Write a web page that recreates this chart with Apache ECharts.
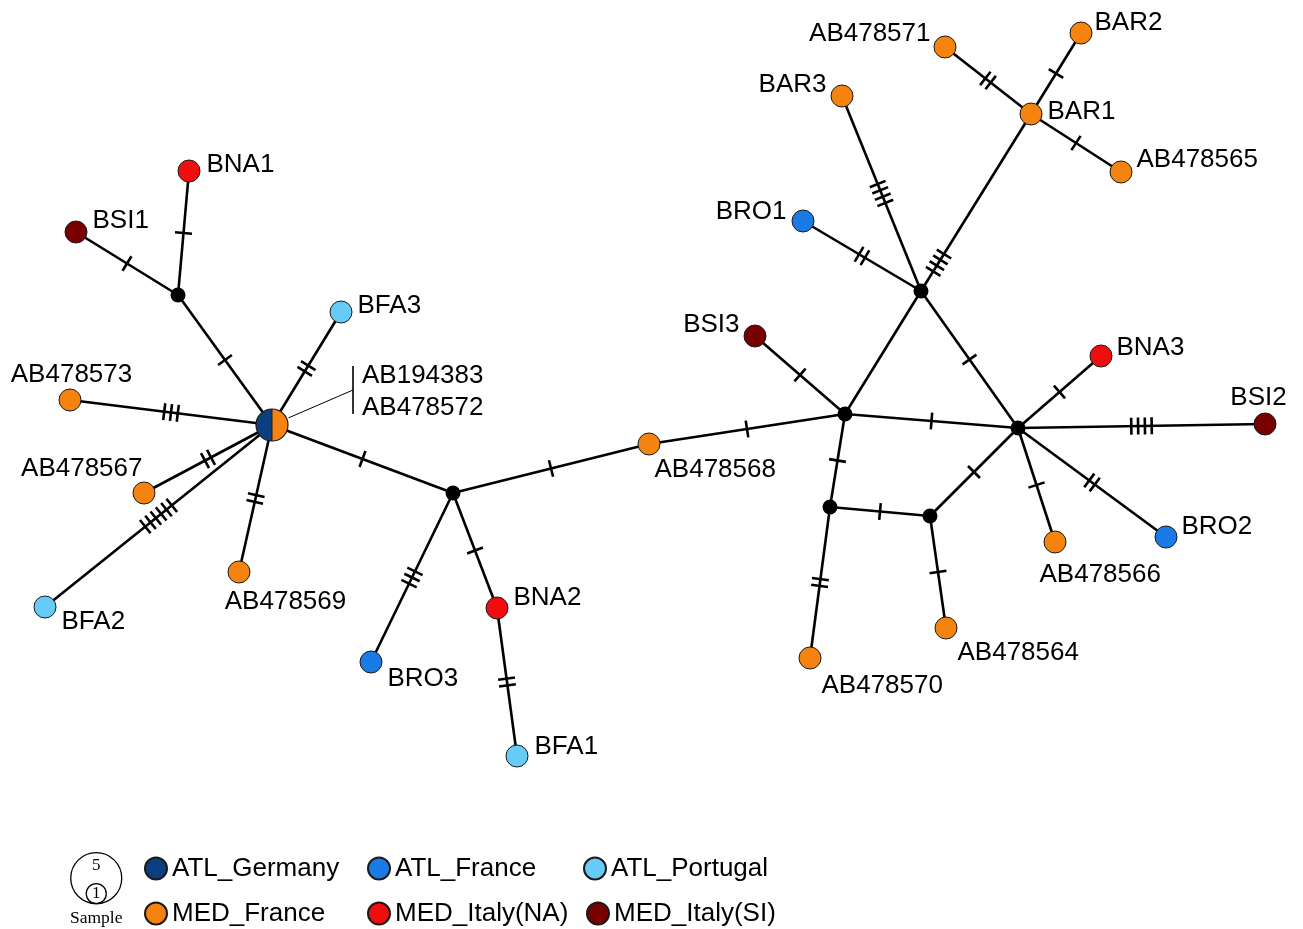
<!DOCTYPE html>
<html>
<head>
<meta charset="utf-8">
<script src="https://cdn.jsdelivr.net/npm/echarts@6/dist/echarts.min.js"></script>
<style>
  html, body { margin: 0; padding: 0; background: #ffffff; }
  #chart { width: 1303px; height: 929px; }
</style>
</head>
<body>
<div id="chart"></div>
<script>
// Median-joining haplotype network: sampled haplotypes, inferred median vectors,
// and the number of mutational steps along each link (hatch marks).

const groupNames  = ['ATL_Germany', 'ATL_France', 'ATL_Portugal', 'MED_France', 'MED_Italy(NA)', 'MED_Italy(SI)'];
const groupColors = ['#0b3f80', '#1a7be6', '#66cbf6', '#f5830f', '#f10d0d', '#780000'];

// Sampled haplotypes and their population of origin
const haplotypeNames  = ['BNA1', 'BSI1', 'BFA3', 'AB478573', 'AB478567', 'BFA2', 'AB478569', 'BRO3',
                         'BNA2', 'BFA1', 'AB478568', 'BSI3', 'BRO1', 'BAR3', 'AB478571', 'BAR1',
                         'BAR2', 'AB478565', 'BNA3', 'BSI2', 'BRO2', 'AB478566', 'AB478564', 'AB478570'];
const haplotypeGroups = ['MED_Italy(NA)', 'MED_Italy(SI)', 'ATL_Portugal', 'MED_France', 'MED_France', 'ATL_Portugal', 'MED_France', 'ATL_France',
                         'MED_Italy(NA)', 'ATL_Portugal', 'MED_France', 'MED_Italy(SI)', 'ATL_France', 'MED_France', 'MED_France', 'MED_France',
                         'MED_France', 'MED_France', 'MED_Italy(NA)', 'MED_Italy(SI)', 'ATL_France', 'MED_France', 'MED_France', 'MED_France'];
// Network layout coordinates
const haplotypeX = [189, 76, 341, 70, 144, 45, 239, 371, 497, 517, 649, 755, 803, 842, 945, 1031, 1081, 1121, 1101, 1265, 1166, 1055, 946, 810];
const haplotypeY = [171, 232, 312, 400, 493, 607, 572, 662, 608, 756, 444, 336, 221, 96, 47, 114, 33, 172, 356, 424, 537, 542, 628, 658];

// Shared haplotype (two sequences from two populations)
const sharedNames  = ['AB194383', 'AB478572'];
const sharedGroups = ['ATL_Germany', 'MED_France'];
const sharedX = 272;
const sharedY = 425;

// Inferred median vectors
const medianNames = ['mv1', 'mv2', 'mv3', 'mv4', 'mv5', 'mv6', 'mv7'];
const medianX = [178, 453, 845, 921, 1018, 830, 930];
const medianY = [295, 493, 414, 291, 428, 507, 516];

// Links and number of mutational steps
const linkFrom  = ['hub', 'mv1', 'mv1', 'hub', 'hub', 'hub', 'hub', 'hub', 'hub', 'mv2', 'mv2', 'BNA2', 'mv2', 'AB478568',
                   'mv3', 'mv3', 'mv4', 'mv4', 'mv4', 'BAR1', 'BAR1', 'BAR1', 'mv4', 'mv3', 'mv3', 'mv6', 'mv7',
                   'mv6', 'mv7', 'mv5', 'mv5', 'mv5', 'mv5'];
const linkTo    = ['mv1', 'BNA1', 'BSI1', 'BFA3', 'AB478573', 'AB478567', 'BFA2', 'AB478569', 'mv2', 'BRO3', 'BNA2', 'BFA1', 'AB478568', 'mv3',
                   'BSI3', 'mv4', 'BRO1', 'BAR3', 'BAR1', 'AB478571', 'BAR2', 'AB478565', 'mv5', 'mv5', 'mv6', 'mv7', 'mv5',
                   'AB478570', 'AB478564', 'BNA3', 'BSI2', 'AB478566', 'BRO2'];
const linkSteps = [1, 1, 1, 2, 3, 2, 6, 2, 1, 3, 1, 2, 1, 1,
                   1, 0, 2, 4, 4, 2, 1, 1, 1, 1, 1, 1, 1,
                   2, 1, 1, 4, 1, 2];

// ---- drawing styles ----
const FONT = "'Liberation Sans', Arial, Helvetica, sans-serif";
const SERIF = "'Liberation Serif', 'Times New Roman', serif";
const LABEL_SIZE = 26;
const NODE_SIZE = 22;
const MEDIAN_SIZE = 15;
const HUB_RADIUS = 16;
const EDGE_WIDTH = 2.6;

// where the hatch group sits along a link (fraction from the first node); default 0.5
const hatchAt = { 'mv4>BAR1': 0.16 };

// label placement relative to each node: [dx, dy, align]
const labelPlace = {
  'BNA1': [18, -6, 'left'], 'BSI1': [17, -11, 'left'], 'BFA3': [17, -6, 'left'],
  'AB478573': [2, -25, 'center'], 'AB478567': [-1, -24, 'right'], 'BFA2': [17, 15, 'left'],
  'AB478569': [47, 30, 'center'], 'BRO3': [17, 17, 'left'], 'BNA2': [17, -10, 'left'],
  'BFA1': [18, -9, 'left'], 'AB478568': [6, 26, 'left'], 'BSI3': [-15, -11, 'right'],
  'BRO1': [-16, -9, 'right'], 'BAR3': [-15, -11, 'right'], 'AB478571': [-14, -13, 'right'],
  'BAR1': [17, -2, 'left'], 'BAR2': [14, -10, 'left'], 'AB478565': [16, -12, 'left'],
  'BNA3': [16, -8, 'left'], 'BSI2': [-6, -26, 'center'], 'BRO2': [16, -10, 'left'],
  'AB478566': [-15, 33, 'left'], 'AB478564': [12, 25, 'left'], 'AB478570': [12, 28, 'left']
};

// legend slots: [left, top]
const legendSlots = {
  'ATL_Germany': [144, 852], 'ATL_France': [367, 852], 'ATL_Portugal': [583, 852],
  'MED_France': [144, 897], 'MED_Italy(NA)': [367, 897], 'MED_Italy(SI)': [586, 897]
};

// ---- lookup of node positions by name ----
const nodePos = { hub: [sharedX, sharedY] };
haplotypeNames.forEach((n, i) => { nodePos[n] = [haplotypeX[i], haplotypeY[i]]; });
medianNames.forEach((n, i) => { nodePos[n] = [medianX[i], medianY[i]]; });

const linkData = linkFrom.map((a, i) => {
  const b = linkTo[i];
  const t = hatchAt[a + '>' + b] != null ? hatchAt[a + '>' + b] : 0.5;
  return [nodePos[a][0], nodePos[a][1], nodePos[b][0], nodePos[b][1], linkSteps[i], t];
});

function groupSeries(g, gi) {
  const data = [];
  haplotypeNames.forEach((n, i) => {
    if (haplotypeGroups[i] !== g) return;
    const lp = labelPlace[n];
    data.push({
      name: n,
      value: [haplotypeX[i], haplotypeY[i]],
      label: {
        position: [NODE_SIZE / 2 + lp[0], NODE_SIZE / 2 + lp[1]],
        align: lp[2],
        verticalAlign: 'middle'
      }
    });
  });
  return {
    name: g,
    type: 'scatter',
    z: 5,
    symbol: 'circle',
    symbolSize: NODE_SIZE,
    itemStyle: { color: groupColors[gi], borderColor: '#1a1a1a', borderWidth: 1, opacity: 1 },
    label: {
      show: true,
      formatter: '{b}',
      color: '#000',
      fontFamily: FONT,
      fontSize: LABEL_SIZE
    },
    emphasis: { disabled: true },
    silent: true,
    data: data
  };
}

const chart = echarts.init(document.getElementById('chart'), null, { renderer: 'canvas' });

const series = [
  {
    name: 'links',
    type: 'custom',
    z: 1,
    silent: true,
    encode: { x: [0, 2], y: [1, 3] },
    renderItem: function (params, api) {
      const p1 = api.coord([api.value(0), api.value(1)]);
      const p2 = api.coord([api.value(2), api.value(3)]);
      const n = api.value(4);
      const t = api.value(5);
      const dx = p2[0] - p1[0], dy = p2[1] - p1[1];
      const L = Math.hypot(dx, dy);
      const ux = dx / L, uy = dy / L;
      const nx = -uy, ny = ux;
      const children = [{
        type: 'line',
        shape: { x1: p1[0], y1: p1[1], x2: p2[0], y2: p2[1] },
        style: { stroke: '#000', lineWidth: EDGE_WIDTH }
      }];
      const cx = p1[0] + dx * t, cy = p1[1] + dy * t;
      const half = 8.5, gap = 6.8;
      for (let k = 0; k < n; k++) {
        const off = (k - (n - 1) / 2) * gap;
        const hx = cx + ux * off, hy = cy + uy * off;
        children.push({
          type: 'line',
          shape: { x1: hx - nx * half, y1: hy - ny * half, x2: hx + nx * half, y2: hy + ny * half },
          style: { stroke: '#000', lineWidth: EDGE_WIDTH }
        });
      }
      return { type: 'group', children: children };
    },
    data: linkData
  },
  {
    name: 'median vectors',
    type: 'scatter',
    z: 4,
    silent: true,
    symbol: 'circle',
    symbolSize: MEDIAN_SIZE,
    itemStyle: { color: '#000', opacity: 1 },
    data: medianNames.map((n, i) => ({ name: n, value: [medianX[i], medianY[i]] }))
  },
  {
    name: 'shared haplotype',
    type: 'custom',
    z: 6,
    silent: true,
    renderItem: function (params, api) {
      const c = api.coord([api.value(0), api.value(1)]);
      const r = HUB_RADIUS;
      const col0 = groupColors[groupNames.indexOf(sharedGroups[0])];
      const col1 = groupColors[groupNames.indexOf(sharedGroups[1])];
      // label bracket to the upper right
      const bx = c[0] + 81, by = c[1] - 35;
      const ang = Math.atan2(by - c[1], bx - c[0]);
      const font = LABEL_SIZE + 'px ' + FONT;
      return {
        type: 'group',
        children: [
          { type: 'sector', shape: { cx: c[0], cy: c[1], r0: 0, r: r, startAngle: Math.PI / 2, endAngle: Math.PI * 1.5, clockwise: true }, style: { fill: col0 } },
          { type: 'sector', shape: { cx: c[0], cy: c[1], r0: 0, r: r, startAngle: -Math.PI / 2, endAngle: Math.PI / 2, clockwise: true }, style: { fill: col1 } },
          { type: 'line', shape: { x1: c[0], y1: c[1] - r, x2: c[0], y2: c[1] + r }, style: { stroke: '#1a1a1a', lineWidth: 1 } },
          { type: 'circle', shape: { cx: c[0], cy: c[1], r: r }, style: { fill: null, stroke: '#1a1a1a', lineWidth: 1.2 } },
          { type: 'line', shape: { x1: c[0] + Math.cos(ang) * (r + 2), y1: c[1] + Math.sin(ang) * (r + 2), x2: bx, y2: by }, style: { stroke: '#000', lineWidth: 1 } },
          { type: 'line', shape: { x1: bx, y1: c[1] - 59, x2: bx, y2: c[1] - 11 }, style: { stroke: '#000', lineWidth: 1.6 } },
          { type: 'text', style: { text: sharedNames[0], x: bx + 9, y: c[1] - 49, fill: '#000', font: font, verticalAlign: 'middle' } },
          { type: 'text', style: { text: sharedNames[1], x: bx + 9, y: c[1] - 17, fill: '#000', font: font, verticalAlign: 'middle' } }
        ]
      };
    },
    data: [[sharedX, sharedY]]
  }
].concat(groupNames.map(groupSeries));

const legends = groupNames.map(g => ({
  orient: 'horizontal',
  left: legendSlots[g][0],
  top: legendSlots[g][1],
  padding: 0,
  icon: 'circle',
  itemWidth: 22,
  itemHeight: 22,
  selectedMode: false,
  textStyle: { fontFamily: FONT, fontSize: 26, color: '#000', lineHeight: 30, padding: [3, 0, 0, 0] },
  data: [g]
}));

chart.setOption({
  animation: false,
  backgroundColor: '#ffffff',
  grid: { left: 0, right: 0, top: 0, bottom: 0 },
  xAxis: { type: 'value', min: 0, max: 1303, show: false },
  yAxis: { type: 'value', min: 0, max: 929, inverse: true, show: false },
  legend: legends,
  graphic: [
    {
      type: 'group',
      left: 70,
      top: 852,
      children: [
        { type: 'circle', shape: { cx: 26, cy: 26, r: 25.5 }, style: { fill: '#fff', stroke: '#000', lineWidth: 1.3 } },
        { type: 'circle', shape: { cx: 26, cy: 41.5, r: 10 }, style: { fill: 'none', stroke: '#000', lineWidth: 1.3 } },
        { type: 'text', style: { text: '5', x: 26, y: 13, fill: '#000', font: '17px ' + SERIF, align: 'center', verticalAlign: 'middle' } },
        { type: 'text', style: { text: '1', x: 26, y: 41.5, fill: '#000', font: '17px ' + SERIF, align: 'center', verticalAlign: 'middle' } },
        { type: 'text', style: { text: 'Sample', x: 26, y: 66, fill: '#000', font: '17.5px ' + SERIF, align: 'center', verticalAlign: 'middle' } }
      ]
    }
  ],
  series: series
});
</script>
</body>
</html>
